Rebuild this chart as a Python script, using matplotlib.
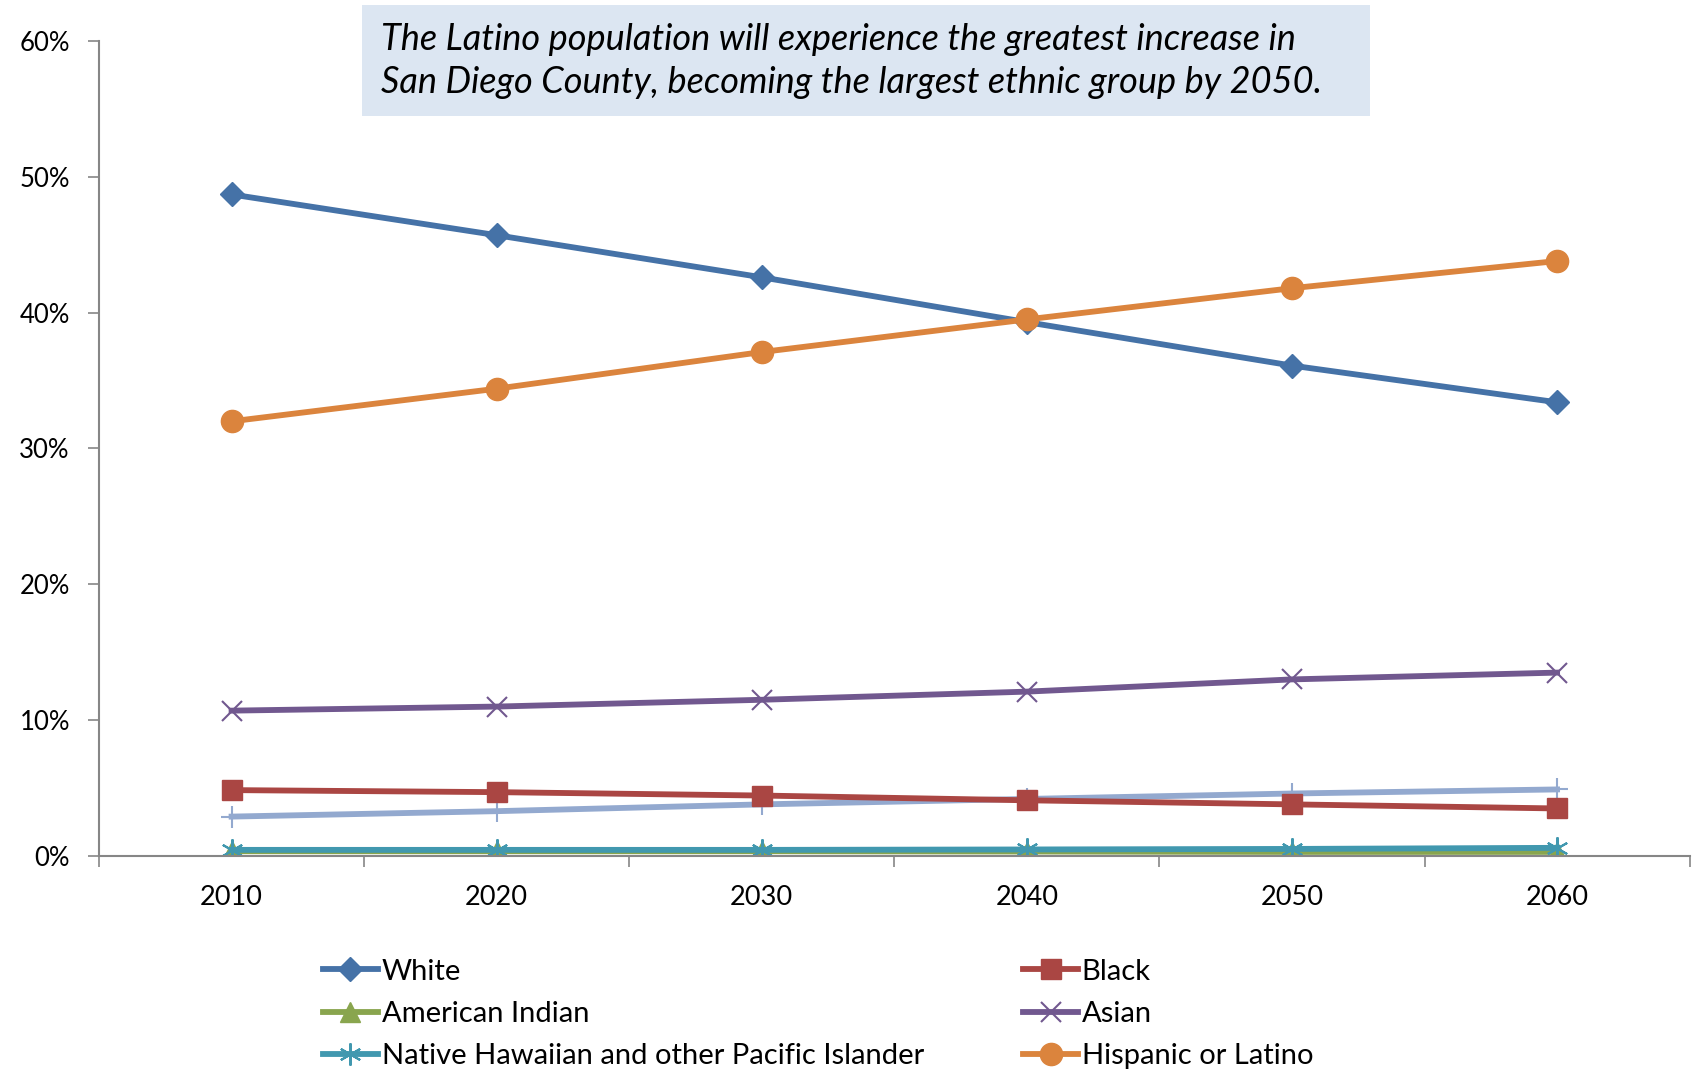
import numpy as np
import matplotlib.pyplot as plt
from matplotlib.patches import Rectangle
from matplotlib.ticker import FixedLocator, PercentFormatter

plt.rcParams["font.family"] = ["Lato", "DejaVu Sans"]

years = ["2010", "2020", "2030", "2040", "2050", "2060"]

white = [48.7, 45.7, 42.6, 39.3, 36.1, 33.4]
black = [4.85, 4.7, 4.45, 4.1, 3.8, 3.5]
american_indian = [0.35, 0.35, 0.35, 0.33, 0.3, 0.3]
asian = [10.7, 11.0, 11.5, 12.1, 13.0, 13.5]
native_hawaiian = [0.45, 0.45, 0.45, 0.48, 0.52, 0.6]
hispanic = [32.0, 34.4, 37.1, 39.5, 41.8, 43.8]
two_or_more = [2.9, 3.3, 3.8, 4.2, 4.6, 4.9]

note = ("The Latino population will experience the greatest increase in\n"
        "San Diego County, becoming the largest ethnic group by 2050.")

fig = plt.figure(figsize=(16.93, 10.72), dpi=100)
ax = fig.add_axes([0.0585, 0.2015, 0.9395, 0.7603])

x = np.arange(len(years))
lw = 4.2

ax.plot(x, two_or_more, color="#93A9CF", lw=lw, marker="+", ms=16, mew=1.5)
h_black, = ax.plot(x, black, color="#AA4643", lw=lw, marker="s", ms=14, label="Black")
h_ai, = ax.plot(x, american_indian, color="#89A54E", lw=lw, marker="^", ms=14,
                label="American Indian")
h_nh, = ax.plot(x, native_hawaiian, color="#4198AF", lw=lw, marker=(6, 2, 0), ms=16,
                mew=1.5, label="Native Hawaiian and other Pacific Islander")
h_asian, = ax.plot(x, asian, color="#71588F", lw=lw, marker="x", ms=15, mew=1.5,
                   label="Asian")
h_white, = ax.plot(x, white, color="#4572A7", lw=lw, marker="D", ms=12, label="White")
h_hisp, = ax.plot(x, hispanic, color="#DB843D", lw=lw, marker="o", ms=16,
                  label="Hispanic or Latino")

ax.set_xlim(-0.5, len(years) - 0.5)
ax.set_ylim(0, 60)
ax.set_xticks(x)
ax.set_xticklabels(years)
ax.xaxis.set_minor_locator(FixedLocator(np.arange(-0.5, len(years), 1.0)))
ax.tick_params(axis="x", which="major", length=0, pad=21, labelsize=19.5)
ax.tick_params(axis="x", which="minor", length=8, color="#868686", width=1.2)
ax.set_yticks(np.arange(0, 61, 10))
ax.yaxis.set_major_formatter(PercentFormatter(decimals=0))
ax.tick_params(axis="y", length=8, color="#868686", width=1.2, labelsize=18.5, pad=13)
for s in ["top", "right"]:
    ax.spines[s].set_visible(False)
for s in ["left", "bottom"]:
    ax.spines[s].set_color("#868686")
    ax.spines[s].set_linewidth(1.5)

# annotation box
fig.patches.append(Rectangle((362 / 1693, 1 - 116 / 1072), (1370 - 362) / 1693,
                             (116 - 5) / 1072, transform=fig.transFigure,
                             facecolor="#DCE6F2", edgecolor="none", zorder=0))
fig.text(381 / 1693, 1 - 61 / 1072, note, ha="left", va="center", fontsize=26,
         style="italic", linespacing=1.34)

handles = [h_white, h_ai, h_nh, h_black, h_asian, h_hisp]
fig.legend(handles=handles, labels=[h.get_label() for h in handles], ncol=2,
           loc="upper left", bbox_to_anchor=(308 / 1693, 1 - 944 / 1072),
           frameon=False, fontsize=21, handlelength=1.9, handletextpad=0.12,
           columnspacing=3.4, labelspacing=0.56, borderpad=0)

fig.savefig("out.png", dpi=100)
